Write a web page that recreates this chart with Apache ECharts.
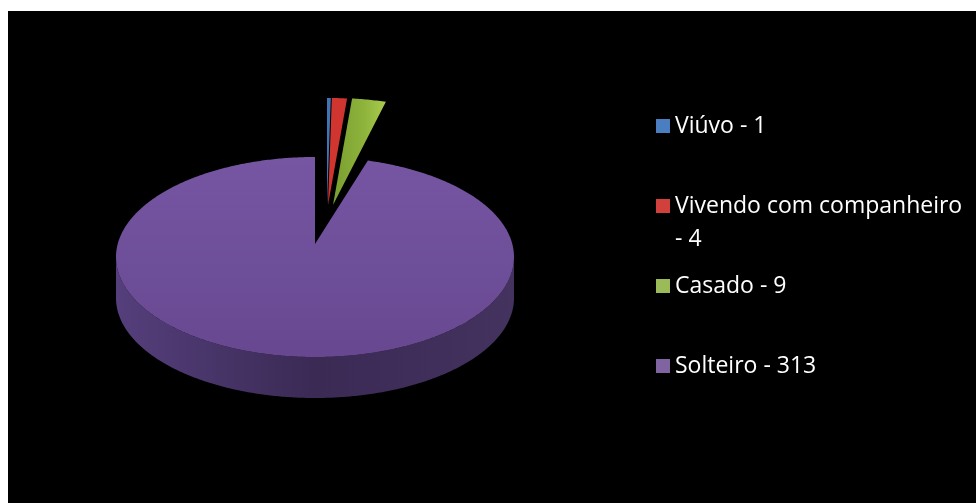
<!DOCTYPE html>
<html>
<head>
<meta charset="utf-8">
<script src="https://cdn.jsdelivr.net/npm/echarts@6/dist/echarts.min.js"></script>
<style>
    html, body { margin: 0; padding: 0; background: #fff; }
    #chart { position: absolute; left: 8px; top: 11px; width: 968px; height: 492px; }
</style>
</head>
<body>
<div id="chart"></div>
<script>
    // data
    var categories = ['Viúvo', 'Vivendo com companheiro', 'Casado', 'Solteiro']
    var counts = [1, 4, 9, 313]
    var sliceColors = ['#3f74b6', '#d0352f', '#8fb43c', '#7455a0']
    var legendColors = ['#4a7ec0', '#d2403b', '#9bbb59', '#8064a2']
    var explodedSlices = [true, true, true, false]

    // layout of the tilted pie (chart pixels)
    var pie = {cx: 307, cy: 246, apexY: 233, rx: 199, ry: 100, depth: 41}
    var lifted = {dx: [12, 13, 18], apexY: 194, ry: 107}
    var legendCenters = [115, 195, 275, 355]

    var total = counts.reduce(function (a, b) { return a + b }, 0)

    function startAngle(i) {
        var s = 0
        for (var k = 0; k < i; k++) s += counts[k]
        return s / total * Math.PI * 2
    }

    function arcPoints(a1, a2, cx, cy, rx, ry) {
        var n = Math.max(2, Math.ceil((a2 - a1) / 0.01) + 1)
        var pts = []
        for (var k = 0; k < n; k++) {
            var a = a1 + (a2 - a1) * k / (n - 1)
            pts.push([cx + rx * Math.sin(a), cy - ry * Math.cos(a)])
        }
        return pts
    }

    function seriesName(i) {
        return categories[i] + ' - ' + counts[i]
    }

    function makeRender(i) {
        return function (params, api) {
            var a1 = startAngle(i)
            var a2 = a1 + api.value(0) / total * Math.PI * 2
            var children = []
            if (explodedSlices[i]) {
                var ax = pie.cx + lifted.dx[i]
                var ay = lifted.apexY
                var pts = [[ax, ay]].concat(arcPoints(a1, a2, ax, ay, pie.rx, lifted.ry))
                var fill = sliceColors[i]
                if (i === 2) {
                    fill = new echarts.graphic.LinearGradient(0, 0, 1, 0, [
                        {offset: 0, color: '#7a9e30'},
                        {offset: 0.6, color: '#8fb43c'},
                        {offset: 1, color: '#a9cc4e'}
                    ])
                }
                children.push({type: 'polygon', shape: {points: pts}, style: {fill: fill}})
            } else {
                var s1 = Math.max(a1, Math.PI / 2)
                var s2 = Math.min(a2, Math.PI * 1.5)
                if (s2 > s1) {
                    var upper = arcPoints(s1, s2, pie.cx, pie.cy, pie.rx, pie.ry)
                    var lower = upper.map(function (p) { return [p[0], p[1] + pie.depth] }).reverse()
                    children.push({
                        type: 'polygon',
                        shape: {points: upper.concat(lower)},
                        style: {
                            fill: new echarts.graphic.LinearGradient(0, 0, 1, 0, [
                                {offset: 0, color: '#553f7c'},
                                {offset: 0.5, color: '#3a2a54'},
                                {offset: 1, color: '#44325f'}
                            ])
                        }
                    })
                }
                var top = [[pie.cx, pie.apexY]].concat(arcPoints(a1, a2, pie.cx, pie.cy, pie.rx, pie.ry))
                children.push({
                    type: 'polygon',
                    shape: {points: top},
                    style: {
                        fill: new echarts.graphic.LinearGradient(0, 0, 0, 1, [
                            {offset: 0, color: '#7656a3'},
                            {offset: 1, color: '#674890'}
                        ])
                    }
                })
            }
            return {type: 'group', children: children}
        }
    }

    var myChart = echarts.init(document.getElementById('chart'))

    var series = categories.map(function (c, i) {
        return {
            type: 'custom',
            name: seriesName(i),
            coordinateSystem: 'none',
            z: explodedSlices[i] ? 3 : 2,
            itemStyle: {color: legendColors[i]},
            renderItem: makeRender(i),
            data: [[counts[i]]]
        }
    })

    var legends = categories.map(function (c, i) {
        // the long entry wraps; a blank first line keeps the icon on the text's first line
        var twoLines = c.length > 20
        return {
            data: [seriesName(i)],
            left: 648,
            top: twoLines ? legendCenters[i] - 49.5 : legendCenters[i] - 16.5,
            padding: 0,
            icon: 'rect',
            itemWidth: 14,
            itemHeight: 14,
            selectedMode: false,
            formatter: function (name) {
                return twoLines ? ' \n' + name.replace(' - ', '\n- ') : name
            },
            textStyle: {
                color: '#ffffff',
                fontFamily: 'Open Sans',
                fontSize: 23,
                lineHeight: 33
            }
        }
    })

    var option = {
        backgroundColor: '#000000',
        animation: false,
        legend: legends,
        series: series
    }
    myChart.setOption(option)
</script>
</body>
</html>
